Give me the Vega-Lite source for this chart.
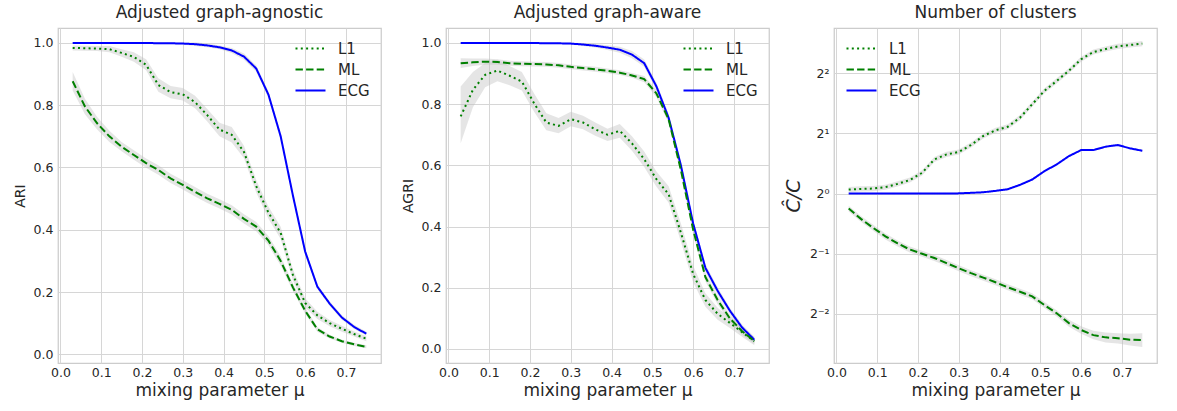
{
  "$schema": "https://vega.github.io/schema/vega-lite/v6.json",
  "padding": {"left": 12, "top": 3, "right": 5, "bottom": 3},
  "background": "white",
  "bounds": "flush",
  "spacing": 65,
  "datasets": {
    "rows": [
      {"panel":"agnostic","method":"ECG","mu":0.03,"value":1.0,"lo":0.997,"hi":1.003},
      {"panel":"agnostic","method":"ECG","mu":0.06,"value":1.0,"lo":0.997,"hi":1.003},
      {"panel":"agnostic","method":"ECG","mu":0.09,"value":1.0,"lo":0.997,"hi":1.003},
      {"panel":"agnostic","method":"ECG","mu":0.12,"value":1.0,"lo":0.997,"hi":1.003},
      {"panel":"agnostic","method":"ECG","mu":0.15,"value":1.0,"lo":0.997,"hi":1.003},
      {"panel":"agnostic","method":"ECG","mu":0.18,"value":1.0,"lo":0.997,"hi":1.003},
      {"panel":"agnostic","method":"ECG","mu":0.21,"value":1.0,"lo":0.997,"hi":1.003},
      {"panel":"agnostic","method":"ECG","mu":0.24,"value":0.999,"lo":0.996,"hi":1.002},
      {"panel":"agnostic","method":"ECG","mu":0.27,"value":0.999,"lo":0.996,"hi":1.002},
      {"panel":"agnostic","method":"ECG","mu":0.30,"value":0.998,"lo":0.995,"hi":1.001},
      {"panel":"agnostic","method":"ECG","mu":0.33,"value":0.996,"lo":0.99,"hi":1.002},
      {"panel":"agnostic","method":"ECG","mu":0.36,"value":0.992,"lo":0.986,"hi":0.998},
      {"panel":"agnostic","method":"ECG","mu":0.39,"value":0.986,"lo":0.98,"hi":0.992},
      {"panel":"agnostic","method":"ECG","mu":0.42,"value":0.976,"lo":0.968,"hi":0.984},
      {"panel":"agnostic","method":"ECG","mu":0.45,"value":0.956,"lo":0.946,"hi":0.966},
      {"panel":"agnostic","method":"ECG","mu":0.48,"value":0.918,"lo":0.908,"hi":0.928},
      {"panel":"agnostic","method":"ECG","mu":0.51,"value":0.834,"lo":0.824,"hi":0.844},
      {"panel":"agnostic","method":"ECG","mu":0.54,"value":0.70,"lo":0.69,"hi":0.71},
      {"panel":"agnostic","method":"ECG","mu":0.57,"value":0.51,"lo":0.5,"hi":0.52},
      {"panel":"agnostic","method":"ECG","mu":0.60,"value":0.33,"lo":0.32,"hi":0.34},
      {"panel":"agnostic","method":"ECG","mu":0.63,"value":0.217,"lo":0.21,"hi":0.224},
      {"panel":"agnostic","method":"ECG","mu":0.66,"value":0.163,"lo":0.156,"hi":0.17},
      {"panel":"agnostic","method":"ECG","mu":0.69,"value":0.118,"lo":0.111,"hi":0.125},
      {"panel":"agnostic","method":"ECG","mu":0.72,"value":0.088,"lo":0.081,"hi":0.095},
      {"panel":"agnostic","method":"ECG","mu":0.75,"value":0.066,"lo":0.06,"hi":0.072},

      {"panel":"agnostic","method":"L1","mu":0.03,"value":0.984,"lo":0.976,"hi":0.992},
      {"panel":"agnostic","method":"L1","mu":0.06,"value":0.983,"lo":0.975,"hi":0.991},
      {"panel":"agnostic","method":"L1","mu":0.09,"value":0.982,"lo":0.974,"hi":0.99},
      {"panel":"agnostic","method":"L1","mu":0.12,"value":0.98,"lo":0.97,"hi":0.99},
      {"panel":"agnostic","method":"L1","mu":0.15,"value":0.968,"lo":0.956,"hi":0.98},
      {"panel":"agnostic","method":"L1","mu":0.18,"value":0.955,"lo":0.94,"hi":0.97},
      {"panel":"agnostic","method":"L1","mu":0.21,"value":0.93,"lo":0.912,"hi":0.948},
      {"panel":"agnostic","method":"L1","mu":0.24,"value":0.865,"lo":0.843,"hi":0.887},
      {"panel":"agnostic","method":"L1","mu":0.27,"value":0.842,"lo":0.822,"hi":0.862},
      {"panel":"agnostic","method":"L1","mu":0.30,"value":0.835,"lo":0.815,"hi":0.855},
      {"panel":"agnostic","method":"L1","mu":0.33,"value":0.81,"lo":0.79,"hi":0.83},
      {"panel":"agnostic","method":"L1","mu":0.36,"value":0.768,"lo":0.748,"hi":0.788},
      {"panel":"agnostic","method":"L1","mu":0.39,"value":0.722,"lo":0.7,"hi":0.744},
      {"panel":"agnostic","method":"L1","mu":0.42,"value":0.705,"lo":0.68,"hi":0.73},
      {"panel":"agnostic","method":"L1","mu":0.45,"value":0.65,"lo":0.63,"hi":0.67},
      {"panel":"agnostic","method":"L1","mu":0.48,"value":0.54,"lo":0.52,"hi":0.56},
      {"panel":"agnostic","method":"L1","mu":0.51,"value":0.455,"lo":0.435,"hi":0.475},
      {"panel":"agnostic","method":"L1","mu":0.54,"value":0.39,"lo":0.37,"hi":0.41},
      {"panel":"agnostic","method":"L1","mu":0.57,"value":0.255,"lo":0.237,"hi":0.273},
      {"panel":"agnostic","method":"L1","mu":0.60,"value":0.165,"lo":0.15,"hi":0.18},
      {"panel":"agnostic","method":"L1","mu":0.63,"value":0.125,"lo":0.113,"hi":0.137},
      {"panel":"agnostic","method":"L1","mu":0.66,"value":0.10,"lo":0.09,"hi":0.11},
      {"panel":"agnostic","method":"L1","mu":0.69,"value":0.082,"lo":0.072,"hi":0.092},
      {"panel":"agnostic","method":"L1","mu":0.72,"value":0.065,"lo":0.057,"hi":0.073},
      {"panel":"agnostic","method":"L1","mu":0.75,"value":0.05,"lo":0.042,"hi":0.058},

      {"panel":"agnostic","method":"ML","mu":0.03,"value":0.877,"lo":0.847,"hi":0.907},
      {"panel":"agnostic","method":"ML","mu":0.06,"value":0.796,"lo":0.771,"hi":0.821},
      {"panel":"agnostic","method":"ML","mu":0.09,"value":0.742,"lo":0.722,"hi":0.762},
      {"panel":"agnostic","method":"ML","mu":0.12,"value":0.70,"lo":0.682,"hi":0.718},
      {"panel":"agnostic","method":"ML","mu":0.15,"value":0.667,"lo":0.652,"hi":0.682},
      {"panel":"agnostic","method":"ML","mu":0.18,"value":0.64,"lo":0.625,"hi":0.655},
      {"panel":"agnostic","method":"ML","mu":0.21,"value":0.614,"lo":0.599,"hi":0.629},
      {"panel":"agnostic","method":"ML","mu":0.24,"value":0.592,"lo":0.577,"hi":0.607},
      {"panel":"agnostic","method":"ML","mu":0.27,"value":0.565,"lo":0.55,"hi":0.58},
      {"panel":"agnostic","method":"ML","mu":0.30,"value":0.544,"lo":0.529,"hi":0.559},
      {"panel":"agnostic","method":"ML","mu":0.33,"value":0.522,"lo":0.507,"hi":0.537},
      {"panel":"agnostic","method":"ML","mu":0.36,"value":0.501,"lo":0.486,"hi":0.516},
      {"panel":"agnostic","method":"ML","mu":0.39,"value":0.483,"lo":0.468,"hi":0.498},
      {"panel":"agnostic","method":"ML","mu":0.42,"value":0.464,"lo":0.449,"hi":0.479},
      {"panel":"agnostic","method":"ML","mu":0.45,"value":0.435,"lo":0.42,"hi":0.45},
      {"panel":"agnostic","method":"ML","mu":0.48,"value":0.41,"lo":0.395,"hi":0.425},
      {"panel":"agnostic","method":"ML","mu":0.51,"value":0.365,"lo":0.35,"hi":0.38},
      {"panel":"agnostic","method":"ML","mu":0.54,"value":0.30,"lo":0.285,"hi":0.315},
      {"panel":"agnostic","method":"ML","mu":0.57,"value":0.215,"lo":0.203,"hi":0.227},
      {"panel":"agnostic","method":"ML","mu":0.60,"value":0.14,"lo":0.13,"hi":0.15},
      {"panel":"agnostic","method":"ML","mu":0.63,"value":0.08,"lo":0.072,"hi":0.088},
      {"panel":"agnostic","method":"ML","mu":0.66,"value":0.057,"lo":0.051,"hi":0.063},
      {"panel":"agnostic","method":"ML","mu":0.69,"value":0.042,"lo":0.037,"hi":0.047},
      {"panel":"agnostic","method":"ML","mu":0.72,"value":0.032,"lo":0.027,"hi":0.037},
      {"panel":"agnostic","method":"ML","mu":0.75,"value":0.024,"lo":0.019,"hi":0.029},

      {"panel":"aware","method":"ECG","mu":0.03,"value":1.0,"lo":0.997,"hi":1.003},
      {"panel":"aware","method":"ECG","mu":0.06,"value":1.0,"lo":0.997,"hi":1.003},
      {"panel":"aware","method":"ECG","mu":0.09,"value":1.0,"lo":0.997,"hi":1.003},
      {"panel":"aware","method":"ECG","mu":0.12,"value":1.0,"lo":0.997,"hi":1.003},
      {"panel":"aware","method":"ECG","mu":0.15,"value":1.0,"lo":0.997,"hi":1.003},
      {"panel":"aware","method":"ECG","mu":0.18,"value":1.0,"lo":0.997,"hi":1.003},
      {"panel":"aware","method":"ECG","mu":0.21,"value":1.0,"lo":0.997,"hi":1.003},
      {"panel":"aware","method":"ECG","mu":0.24,"value":0.999,"lo":0.996,"hi":1.002},
      {"panel":"aware","method":"ECG","mu":0.27,"value":0.999,"lo":0.996,"hi":1.002},
      {"panel":"aware","method":"ECG","mu":0.30,"value":0.998,"lo":0.995,"hi":1.001},
      {"panel":"aware","method":"ECG","mu":0.33,"value":0.995,"lo":0.99,"hi":1.0},
      {"panel":"aware","method":"ECG","mu":0.36,"value":0.991,"lo":0.985,"hi":0.997},
      {"panel":"aware","method":"ECG","mu":0.39,"value":0.985,"lo":0.977,"hi":0.993},
      {"panel":"aware","method":"ECG","mu":0.42,"value":0.978,"lo":0.968,"hi":0.988},
      {"panel":"aware","method":"ECG","mu":0.45,"value":0.962,"lo":0.95,"hi":0.974},
      {"panel":"aware","method":"ECG","mu":0.48,"value":0.934,"lo":0.922,"hi":0.946},
      {"panel":"aware","method":"ECG","mu":0.51,"value":0.858,"lo":0.846,"hi":0.87},
      {"panel":"aware","method":"ECG","mu":0.54,"value":0.755,"lo":0.743,"hi":0.767},
      {"panel":"aware","method":"ECG","mu":0.57,"value":0.60,"lo":0.588,"hi":0.612},
      {"panel":"aware","method":"ECG","mu":0.60,"value":0.41,"lo":0.398,"hi":0.422},
      {"panel":"aware","method":"ECG","mu":0.63,"value":0.265,"lo":0.253,"hi":0.277},
      {"panel":"aware","method":"ECG","mu":0.66,"value":0.19,"lo":0.178,"hi":0.202},
      {"panel":"aware","method":"ECG","mu":0.69,"value":0.125,"lo":0.115,"hi":0.135},
      {"panel":"aware","method":"ECG","mu":0.72,"value":0.07,"lo":0.06,"hi":0.08},
      {"panel":"aware","method":"ECG","mu":0.75,"value":0.03,"lo":0.02,"hi":0.04},

      {"panel":"aware","method":"L1","mu":0.03,"value":0.76,"lo":0.672,"hi":0.858},
      {"panel":"aware","method":"L1","mu":0.06,"value":0.847,"lo":0.79,"hi":0.905},
      {"panel":"aware","method":"L1","mu":0.09,"value":0.896,"lo":0.855,"hi":0.935},
      {"panel":"aware","method":"L1","mu":0.12,"value":0.91,"lo":0.875,"hi":0.945},
      {"panel":"aware","method":"L1","mu":0.15,"value":0.893,"lo":0.862,"hi":0.925},
      {"panel":"aware","method":"L1","mu":0.18,"value":0.874,"lo":0.845,"hi":0.905},
      {"panel":"aware","method":"L1","mu":0.21,"value":0.803,"lo":0.775,"hi":0.835},
      {"panel":"aware","method":"L1","mu":0.24,"value":0.74,"lo":0.715,"hi":0.77},
      {"panel":"aware","method":"L1","mu":0.27,"value":0.729,"lo":0.705,"hi":0.755},
      {"panel":"aware","method":"L1","mu":0.30,"value":0.751,"lo":0.728,"hi":0.775},
      {"panel":"aware","method":"L1","mu":0.33,"value":0.74,"lo":0.718,"hi":0.762},
      {"panel":"aware","method":"L1","mu":0.36,"value":0.718,"lo":0.697,"hi":0.74},
      {"panel":"aware","method":"L1","mu":0.39,"value":0.70,"lo":0.68,"hi":0.72},
      {"panel":"aware","method":"L1","mu":0.42,"value":0.713,"lo":0.69,"hi":0.735},
      {"panel":"aware","method":"L1","mu":0.45,"value":0.672,"lo":0.648,"hi":0.695},
      {"panel":"aware","method":"L1","mu":0.48,"value":0.62,"lo":0.595,"hi":0.645},
      {"panel":"aware","method":"L1","mu":0.51,"value":0.555,"lo":0.53,"hi":0.58},
      {"panel":"aware","method":"L1","mu":0.54,"value":0.505,"lo":0.478,"hi":0.532},
      {"panel":"aware","method":"L1","mu":0.57,"value":0.38,"lo":0.35,"hi":0.41},
      {"panel":"aware","method":"L1","mu":0.60,"value":0.245,"lo":0.218,"hi":0.272},
      {"panel":"aware","method":"L1","mu":0.63,"value":0.16,"lo":0.138,"hi":0.182},
      {"panel":"aware","method":"L1","mu":0.66,"value":0.115,"lo":0.095,"hi":0.135},
      {"panel":"aware","method":"L1","mu":0.69,"value":0.085,"lo":0.068,"hi":0.102},
      {"panel":"aware","method":"L1","mu":0.72,"value":0.055,"lo":0.04,"hi":0.07},
      {"panel":"aware","method":"L1","mu":0.75,"value":0.025,"lo":0.012,"hi":0.038},

      {"panel":"aware","method":"ML","mu":0.03,"value":0.934,"lo":0.918,"hi":0.95},
      {"panel":"aware","method":"ML","mu":0.06,"value":0.937,"lo":0.925,"hi":0.949},
      {"panel":"aware","method":"ML","mu":0.09,"value":0.939,"lo":0.929,"hi":0.949},
      {"panel":"aware","method":"ML","mu":0.12,"value":0.938,"lo":0.929,"hi":0.947},
      {"panel":"aware","method":"ML","mu":0.15,"value":0.934,"lo":0.926,"hi":0.942},
      {"panel":"aware","method":"ML","mu":0.18,"value":0.932,"lo":0.924,"hi":0.94},
      {"panel":"aware","method":"ML","mu":0.21,"value":0.931,"lo":0.923,"hi":0.939},
      {"panel":"aware","method":"ML","mu":0.24,"value":0.93,"lo":0.922,"hi":0.938},
      {"panel":"aware","method":"ML","mu":0.27,"value":0.927,"lo":0.919,"hi":0.935},
      {"panel":"aware","method":"ML","mu":0.30,"value":0.922,"lo":0.914,"hi":0.93},
      {"panel":"aware","method":"ML","mu":0.33,"value":0.918,"lo":0.91,"hi":0.926},
      {"panel":"aware","method":"ML","mu":0.36,"value":0.914,"lo":0.906,"hi":0.922},
      {"panel":"aware","method":"ML","mu":0.39,"value":0.909,"lo":0.901,"hi":0.917},
      {"panel":"aware","method":"ML","mu":0.42,"value":0.903,"lo":0.895,"hi":0.911},
      {"panel":"aware","method":"ML","mu":0.45,"value":0.894,"lo":0.886,"hi":0.902},
      {"panel":"aware","method":"ML","mu":0.48,"value":0.882,"lo":0.872,"hi":0.892},
      {"panel":"aware","method":"ML","mu":0.51,"value":0.835,"lo":0.823,"hi":0.847},
      {"panel":"aware","method":"ML","mu":0.54,"value":0.75,"lo":0.738,"hi":0.762},
      {"panel":"aware","method":"ML","mu":0.57,"value":0.585,"lo":0.572,"hi":0.598},
      {"panel":"aware","method":"ML","mu":0.60,"value":0.39,"lo":0.376,"hi":0.404},
      {"panel":"aware","method":"ML","mu":0.63,"value":0.235,"lo":0.221,"hi":0.249},
      {"panel":"aware","method":"ML","mu":0.66,"value":0.16,"lo":0.146,"hi":0.174},
      {"panel":"aware","method":"ML","mu":0.69,"value":0.10,"lo":0.088,"hi":0.112},
      {"panel":"aware","method":"ML","mu":0.72,"value":0.058,"lo":0.047,"hi":0.069},
      {"panel":"aware","method":"ML","mu":0.75,"value":0.026,"lo":0.016,"hi":0.036},

      {"panel":"clusters","method":"ECG","mu":0.03,"value":1.0,"lo":0.99,"hi":1.01},
      {"panel":"clusters","method":"ECG","mu":0.06,"value":1.0,"lo":0.99,"hi":1.01},
      {"panel":"clusters","method":"ECG","mu":0.09,"value":1.0,"lo":0.99,"hi":1.01},
      {"panel":"clusters","method":"ECG","mu":0.12,"value":1.0,"lo":0.99,"hi":1.01},
      {"panel":"clusters","method":"ECG","mu":0.15,"value":1.0,"lo":0.99,"hi":1.01},
      {"panel":"clusters","method":"ECG","mu":0.18,"value":1.0,"lo":0.99,"hi":1.01},
      {"panel":"clusters","method":"ECG","mu":0.21,"value":1.0,"lo":0.99,"hi":1.01},
      {"panel":"clusters","method":"ECG","mu":0.24,"value":1.0,"lo":0.99,"hi":1.01},
      {"panel":"clusters","method":"ECG","mu":0.27,"value":1.0,"lo":0.99,"hi":1.01},
      {"panel":"clusters","method":"ECG","mu":0.30,"value":1.002,"lo":0.992,"hi":1.012},
      {"panel":"clusters","method":"ECG","mu":0.33,"value":1.008,"lo":0.998,"hi":1.018},
      {"panel":"clusters","method":"ECG","mu":0.36,"value":1.015,"lo":1.005,"hi":1.025},
      {"panel":"clusters","method":"ECG","mu":0.39,"value":1.031,"lo":1.02,"hi":1.042},
      {"panel":"clusters","method":"ECG","mu":0.42,"value":1.051,"lo":1.04,"hi":1.062},
      {"panel":"clusters","method":"ECG","mu":0.45,"value":1.105,"lo":1.093,"hi":1.117},
      {"panel":"clusters","method":"ECG","mu":0.48,"value":1.175,"lo":1.162,"hi":1.188},
      {"panel":"clusters","method":"ECG","mu":0.51,"value":1.294,"lo":1.28,"hi":1.308},
      {"panel":"clusters","method":"ECG","mu":0.54,"value":1.398,"lo":1.383,"hi":1.413},
      {"panel":"clusters","method":"ECG","mu":0.57,"value":1.539,"lo":1.522,"hi":1.556},
      {"panel":"clusters","method":"ECG","mu":0.60,"value":1.649,"lo":1.631,"hi":1.667},
      {"panel":"clusters","method":"ECG","mu":0.63,"value":1.649,"lo":1.631,"hi":1.667},
      {"panel":"clusters","method":"ECG","mu":0.66,"value":1.715,"lo":1.697,"hi":1.733},
      {"panel":"clusters","method":"ECG","mu":0.69,"value":1.748,"lo":1.729,"hi":1.767},
      {"panel":"clusters","method":"ECG","mu":0.72,"value":1.682,"lo":1.664,"hi":1.7},
      {"panel":"clusters","method":"ECG","mu":0.75,"value":1.637,"lo":1.619,"hi":1.655},

      {"panel":"clusters","method":"L1","mu":0.03,"value":1.047,"lo":1.016,"hi":1.078},
      {"panel":"clusters","method":"L1","mu":0.06,"value":1.055,"lo":1.024,"hi":1.087},
      {"panel":"clusters","method":"L1","mu":0.09,"value":1.059,"lo":1.028,"hi":1.091},
      {"panel":"clusters","method":"L1","mu":0.12,"value":1.076,"lo":1.045,"hi":1.108},
      {"panel":"clusters","method":"L1","mu":0.15,"value":1.118,"lo":1.085,"hi":1.152},
      {"panel":"clusters","method":"L1","mu":0.18,"value":1.169,"lo":1.135,"hi":1.204},
      {"panel":"clusters","method":"L1","mu":0.21,"value":1.269,"lo":1.232,"hi":1.307},
      {"panel":"clusters","method":"L1","mu":0.24,"value":1.481,"lo":1.438,"hi":1.525},
      {"panel":"clusters","method":"L1","mu":0.27,"value":1.569,"lo":1.523,"hi":1.616},
      {"panel":"clusters","method":"L1","mu":0.30,"value":1.613,"lo":1.566,"hi":1.661},
      {"panel":"clusters","method":"L1","mu":0.33,"value":1.748,"lo":1.697,"hi":1.8},
      {"panel":"clusters","method":"L1","mu":0.36,"value":1.94,"lo":1.883,"hi":1.998},
      {"panel":"clusters","method":"L1","mu":0.39,"value":2.071,"lo":2.011,"hi":2.133},
      {"panel":"clusters","method":"L1","mu":0.42,"value":2.158,"lo":2.095,"hi":2.223},
      {"panel":"clusters","method":"L1","mu":0.45,"value":2.395,"lo":2.325,"hi":2.467},
      {"panel":"clusters","method":"L1","mu":0.48,"value":2.795,"lo":2.714,"hi":2.879},
      {"panel":"clusters","method":"L1","mu":0.51,"value":3.263,"lo":3.168,"hi":3.361},
      {"panel":"clusters","method":"L1","mu":0.54,"value":3.655,"lo":3.549,"hi":3.765},
      {"panel":"clusters","method":"L1","mu":0.57,"value":4.112,"lo":3.992,"hi":4.235},
      {"panel":"clusters","method":"L1","mu":0.60,"value":4.692,"lo":4.555,"hi":4.833},
      {"panel":"clusters","method":"L1","mu":0.63,"value":5.098,"lo":4.95,"hi":5.251},
      {"panel":"clusters","method":"L1","mu":0.66,"value":5.278,"lo":5.124,"hi":5.436},
      {"panel":"clusters","method":"L1","mu":0.69,"value":5.441,"lo":5.283,"hi":5.604},
      {"panel":"clusters","method":"L1","mu":0.72,"value":5.529,"lo":5.368,"hi":5.695},
      {"panel":"clusters","method":"L1","mu":0.75,"value":5.618,"lo":5.454,"hi":5.787},

      {"panel":"clusters","method":"ML","mu":0.03,"value":0.841,"lo":0.813,"hi":0.87},
      {"panel":"clusters","method":"ML","mu":0.06,"value":0.747,"lo":0.722,"hi":0.773},
      {"panel":"clusters","method":"ML","mu":0.09,"value":0.674,"lo":0.651,"hi":0.698},
      {"panel":"clusters","method":"ML","mu":0.12,"value":0.611,"lo":0.59,"hi":0.632},
      {"panel":"clusters","method":"ML","mu":0.15,"value":0.563,"lo":0.544,"hi":0.583},
      {"panel":"clusters","method":"ML","mu":0.18,"value":0.525,"lo":0.507,"hi":0.543},
      {"panel":"clusters","method":"ML","mu":0.21,"value":0.50,"lo":0.483,"hi":0.518},
      {"panel":"clusters","method":"ML","mu":0.24,"value":0.476,"lo":0.46,"hi":0.493},
      {"panel":"clusters","method":"ML","mu":0.27,"value":0.449,"lo":0.434,"hi":0.465},
      {"panel":"clusters","method":"ML","mu":0.30,"value":0.423,"lo":0.409,"hi":0.438},
      {"panel":"clusters","method":"ML","mu":0.33,"value":0.40,"lo":0.386,"hi":0.414},
      {"panel":"clusters","method":"ML","mu":0.36,"value":0.38,"lo":0.367,"hi":0.393},
      {"panel":"clusters","method":"ML","mu":0.39,"value":0.36,"lo":0.348,"hi":0.373},
      {"panel":"clusters","method":"ML","mu":0.42,"value":0.34,"lo":0.329,"hi":0.352},
      {"panel":"clusters","method":"ML","mu":0.45,"value":0.323,"lo":0.312,"hi":0.334},
      {"panel":"clusters","method":"ML","mu":0.48,"value":0.306,"lo":0.296,"hi":0.317},
      {"panel":"clusters","method":"ML","mu":0.51,"value":0.277,"lo":0.268,"hi":0.287},
      {"panel":"clusters","method":"ML","mu":0.54,"value":0.252,"lo":0.243,"hi":0.261},
      {"panel":"clusters","method":"ML","mu":0.57,"value":0.225,"lo":0.216,"hi":0.234},
      {"panel":"clusters","method":"ML","mu":0.60,"value":0.208,"lo":0.199,"hi":0.217},
      {"panel":"clusters","method":"ML","mu":0.63,"value":0.196,"lo":0.187,"hi":0.206},
      {"panel":"clusters","method":"ML","mu":0.66,"value":0.191,"lo":0.18,"hi":0.202},
      {"panel":"clusters","method":"ML","mu":0.69,"value":0.189,"lo":0.178,"hi":0.2},
      {"panel":"clusters","method":"ML","mu":0.72,"value":0.186,"lo":0.174,"hi":0.199},
      {"panel":"clusters","method":"ML","mu":0.75,"value":0.185,"lo":0.171,"hi":0.2}
    ]
  },
  "data": {"name": "rows"},
  "hconcat": [
    {
      "width": 323, "height": 335,
      "title": {"text": "Adjusted graph-agnostic"},
      "transform": [{"filter": "datum.panel === 'agnostic'"}],
      "layer": [
        {
          "mark": {"type": "area", "fill": "#bdbdbd", "opacity": 0.4},
          "encoding": {
            "x": {"field": "mu", "type": "quantitative", "scale": {"domain": [-0.006, 0.786], "nice": false, "zero": false},
                  "axis": {"values": [0,0.1,0.2,0.3,0.4,0.5,0.6,0.7], "format": ".1f", "title": "mixing parameter μ"}},
            "y": {"field": "lo", "type": "quantitative", "scale": {"domain": [-0.028, 1.048], "nice": false, "zero": false},
                  "axis": {"values": [0,0.2,0.4,0.6,0.8,1.0], "format": ".1f", "title": "ARI"}},
            "y2": {"field": "hi"},
            "detail": {"field": "method"}
          }
        },
        {
          "mark": {"type": "line", "strokeWidth": 2},
          "encoding": {
            "x": {"field": "mu", "type": "quantitative"},
            "y": {"field": "value", "type": "quantitative"},
            "color": {"field": "method", "type": "nominal", "scale": {"domain": ["L1","ML","ECG"], "range": ["#008000","#008000","#0000ff"]},
                      "legend": {"title": null, "orient": "none", "legendX": 245, "legendY": 13}},
            "strokeDash": {"field": "method", "type": "nominal", "scale": {"domain": ["L1","ML","ECG"], "range": [[2,3.3],[7.4,3.2],[1,0]]},
                      "legend": {"title": null, "orient": "none", "legendX": 245, "legendY": 13}}
          }
        }
      ]
    },
    {
      "width": 323, "height": 335,
      "title": {"text": "Adjusted graph-aware"},
      "transform": [{"filter": "datum.panel === 'aware'"}],
      "layer": [
        {
          "mark": {"type": "area", "fill": "#bdbdbd", "opacity": 0.4},
          "encoding": {
            "x": {"field": "mu", "type": "quantitative", "scale": {"domain": [-0.006, 0.786], "nice": false, "zero": false},
                  "axis": {"values": [0,0.1,0.2,0.3,0.4,0.5,0.6,0.7], "format": ".1f", "title": "mixing parameter μ"}},
            "y": {"field": "lo", "type": "quantitative", "scale": {"domain": [-0.046, 1.049], "nice": false, "zero": false},
                  "axis": {"values": [0,0.2,0.4,0.6,0.8,1.0], "format": ".1f", "title": "AGRI"}},
            "y2": {"field": "hi"},
            "detail": {"field": "method"}
          }
        },
        {
          "mark": {"type": "line", "strokeWidth": 2},
          "encoding": {
            "x": {"field": "mu", "type": "quantitative"},
            "y": {"field": "value", "type": "quantitative"},
            "color": {"field": "method", "type": "nominal", "scale": {"domain": ["L1","ML","ECG"], "range": ["#008000","#008000","#0000ff"]},
                      "legend": {"title": null, "orient": "none", "legendX": 245, "legendY": 13}},
            "strokeDash": {"field": "method", "type": "nominal", "scale": {"domain": ["L1","ML","ECG"], "range": [[2,3.3],[7.4,3.2],[1,0]]},
                      "legend": {"title": null, "orient": "none", "legendX": 245, "legendY": 13}}
          }
        }
      ]
    },
    {
      "width": 323, "height": 335,
      "title": {"text": "Number of clusters"},
      "transform": [{"filter": "datum.panel === 'clusters'"}],
      "layer": [
        {
          "mark": {"type": "area", "fill": "#bdbdbd", "opacity": 0.4},
          "encoding": {
            "x": {"field": "mu", "type": "quantitative", "scale": {"domain": [-0.006, 0.786], "nice": false, "zero": false},
                  "axis": {"values": [0,0.1,0.2,0.3,0.4,0.5,0.6,0.7], "format": ".1f", "title": "mixing parameter μ"}},
            "y": {"field": "lo", "type": "quantitative", "scale": {"type": "log", "base": 2, "domain": [0.1422, 6.723], "nice": false, "zero": false},
                  "axis": {"values": [0.25,0.5,1,2,4], "title": "Ĉ/C", "titleFontSize": 19, "titleFontStyle": "italic",
                           "labelExpr": "datum.value == 4 ? '2²' : datum.value == 2 ? '2¹' : datum.value == 1 ? '2⁰' : datum.value == 0.5 ? '2⁻¹' : '2⁻²'"}},
            "y2": {"field": "hi"},
            "detail": {"field": "method"}
          }
        },
        {
          "mark": {"type": "line", "strokeWidth": 2},
          "encoding": {
            "x": {"field": "mu", "type": "quantitative"},
            "y": {"field": "value", "type": "quantitative"},
            "color": {"field": "method", "type": "nominal", "scale": {"domain": ["L1","ML","ECG"], "range": ["#008000","#008000","#0000ff"]},
                      "legend": {"title": null, "orient": "none", "legendX": 20, "legendY": 13}},
            "strokeDash": {"field": "method", "type": "nominal", "scale": {"domain": ["L1","ML","ECG"], "range": [[2,3.3],[7.4,3.2],[1,0]]},
                      "legend": {"title": null, "orient": "none", "legendX": 20, "legendY": 13}}
          }
        }
      ]
    }
  ],
  "resolve": {
    "scale": {"y": "independent", "color": "independent", "strokeDash": "independent"},
    "axis": {"y": "independent"},
    "legend": {"color": "independent", "strokeDash": "independent"}
  },
  "config": {
    "font": "DejaVu Sans",
    "view": {"stroke": "#cccccc", "strokeWidth": 1.25},
    "axis": {"grid": true, "gridColor": "#d6d6d6", "gridWidth": 1, "domain": false, "ticks": false,
             "labelFontSize": 12.5, "labelColor": "#262626", "labelPadding": 3, "labelFlush": false, "labelOverlap": false,
             "titleFontSize": 17, "titleFontWeight": "normal", "titleColor": "#262626", "titlePadding": 4},
    "axisY": {"titleFontSize": 14, "titlePadding": 6, "labelPadding": 5},
    "legend": {"labelFontSize": 15, "labelColor": "#262626", "symbolSize": 144, "symbolStrokeWidth": 2, "symbolType": "M-2.5,0L2.5,0",
               "rowPadding": 5, "labelOffset": 20, "padding": 0},
    "title": {"fontSize": 17, "fontWeight": "normal", "color": "#262626", "offset": 6, "frame": "group", "anchor": "middle"}
  }
}
